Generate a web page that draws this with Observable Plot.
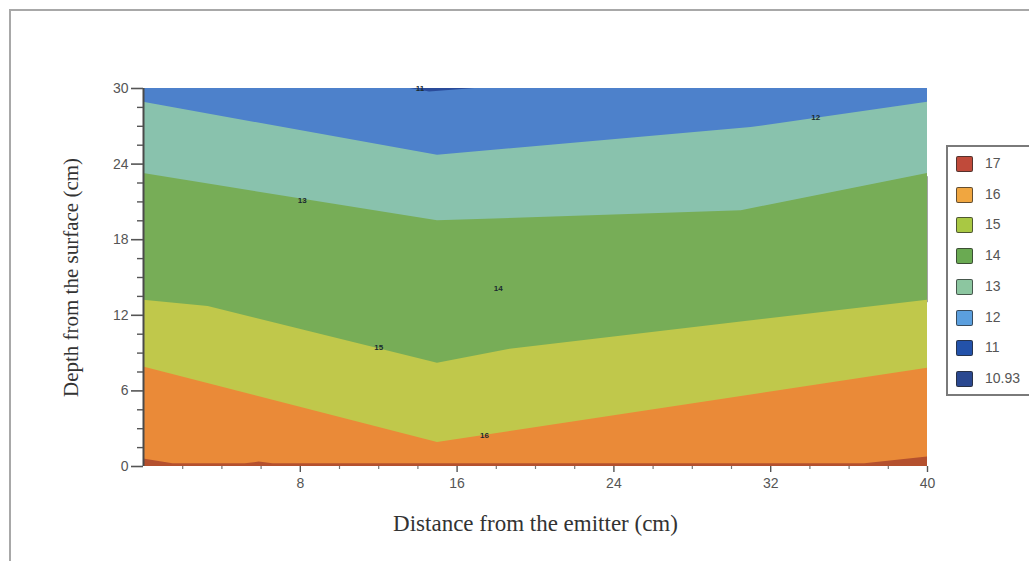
<!DOCTYPE html>
<html>
<head>
<meta charset="utf-8">
<script src="https://cdn.jsdelivr.net/npm/d3@7"></script>
<script src="https://cdn.jsdelivr.net/npm/@observablehq/plot@0.6"></script>
<style>
  html, body { margin: 0; padding: 0; background: #fff; overflow: hidden; width: 1029px; height: 561px; }
  #wrap { position: relative; width: 1029px; height: 561px; }
  #frame { position: absolute; left: 9px; top: 9px; width: 1100px; height: 600px;
           border-top: 2px solid #a8a8a8; border-left: 2px solid #a8a8a8; pointer-events: none; }
  #legend { position: absolute; left: 946px; top: 145px; width: 110px; height: 251px;
            border: 2px solid #7a7a7a; background: #fff; box-sizing: border-box; }
  .row { position: absolute; left: 8px; height: 18px; }
  .sw { position: absolute; left: 0; top: 0; width: 17px; height: 16px; box-sizing: border-box;
        border: 1.5px solid rgba(40,40,40,0.7); border-radius: 2px; }
  .lab { position: absolute; left: 29px; top: -1px; font: 14px "Liberation Sans", Arial, sans-serif; color: #555; }
</style>
</head>
<body>
<div id="wrap"></div>
<script>
// ---- data ----
// band boundaries (depth, cm) as functions of distance (cm); each band is painted from its lower boundary up to the top
const base17X = [0, 40];
const base17Y = [0, 0];
const b17X = [0, 1.5, 5.2, 5.9, 6.6, 36.8, 40];      // red(17) -> orange(16)
const b17Y = [0.6, 0.22, 0.22, 0.35, 0.22, 0.22, 0.75];
const b16X = [0, 15, 40];                          // orange(16) -> yellow(15)
const b16Y = [7.9, 1.9, 7.8];
const b15X = [0, 3.3, 15, 18.7, 40];               // yellow(15) -> green(14)
const b15Y = [13.2, 12.7, 8.2, 9.3, 13.2];
const b14X = [0, 15, 30.5, 40];                    // green(14) -> teal(13)
const b14Y = [23.25, 19.5, 20.3, 23.25];
const b13X = [0, 15, 31, 40];                      // teal(13) -> blue(12)
const b13Y = [28.9, 24.7, 26.9, 28.9];
const b12X = [13.6, 14.6, 16.9];                   // blue(12) -> dark blue(11)
const b12Y = [30, 29.72, 30];

const bandNames  = ["17", "16", "15", "14", "13", "12", "11"];
const bandColors = ["#b4502e", "#ea8a38", "#c0c84b", "#77ad57", "#89c2ad", "#4d81cb", "#2a4b9a"];

const labelText = ["11", "12", "13", "14", "15", "16"];
const labelX    = [14.1, 34.3, 8.1, 18.1, 12.0, 17.4];
const labelY    = [30.0, 27.7, 21.1, 14.1, 9.45, 2.5];

const legendLabels = ["17", "16", "15", "14", "13", "12", "11", "10.93"];
const legendColors = ["#c04a3a", "#f0a640", "#a9c843", "#6aaa52", "#8cc6a0", "#5b9fde", "#2352aa", "#2a4890"];

const xTicks = [8, 16, 24, 32, 40];
const yTicks = [0, 6, 12, 18, 24, 30];
const xMinor = d3.range(0, 40.01, 2).filter(v => v % 8 !== 0);
const yMinor = d3.range(0, 30.01, 1.5).filter(v => v % 6 !== 0);

// ---- build ----
const boundaries = [
  [base17X, base17Y], [b17X, b17Y], [b16X, b16Y], [b15X, b15Y], [b14X, b14Y], [b13X, b13Y], [b12X, b12Y]
];
const bandMarks = boundaries.map(([X, Y], i) =>
  Plot.areaY(X.map((x, j) => ({x, y: Y[j]})), {x: "x", y1: "y", y2: 30, fill: bandColors[i], curve: "linear"})
);
const labels = labelText.map((t, i) => ({t, x: labelX[i], y: labelY[i]}));
const serif = "'Liberation Serif', 'Times New Roman', serif";

const chart = Plot.plot({
  width: 1029, height: 561,
  marginLeft: 143, marginRight: 102, marginTop: 88, marginBottom: 95,
  style: {background: "transparent", color: "#555", fontFamily: "'Liberation Sans', Arial, sans-serif"},
  x: {domain: [0, 40]},
  y: {domain: [0, 30]},
  marks: [
    ...bandMarks,
    Plot.text(labels, {x: "x", y: "y", text: "t", fontSize: 8, fontWeight: "bold", fill: "#1a2a30"}),
    Plot.ruleX([0], {stroke: "#4a4a4a", strokeWidth: 2}),
    Plot.ruleX([40], {y1: 13, y2: 23, stroke: "#666", strokeWidth: 1, strokeOpacity: 0.6}),
    Plot.axisY({ticks: yTicks, tickSize: 12, tickPadding: 3, fontSize: 14, stroke: "#555", strokeWidth: 1.6, label: null, fill: "#555"}),
    Plot.axisY({ticks: yMinor, tickSize: 6, text: null, stroke: "#555", strokeWidth: 1.4, label: null}),
    Plot.axisX({ticks: xTicks, tickSize: 6, tickPadding: 6, fontSize: 14, stroke: "#555", strokeWidth: 1.4, label: null, fill: "#555"}),
    Plot.axisX({ticks: xMinor, tickSize: 3, text: null, stroke: "#777", strokeWidth: 1.2, label: null}),
    Plot.text(["Distance from the emitter (cm)"], {frameAnchor: "bottom", dy: 57, lineAnchor: "middle", textAnchor: "middle", fontSize: 23, fontFamily: serif, fill: "#333"}),
    Plot.text(["Depth from the surface (cm)"], {frameAnchor: "left", dx: -72, rotate: -90, lineAnchor: "middle", textAnchor: "middle", fontSize: 21, fontFamily: serif, fill: "#333"})
  ]
});

const wrap = document.getElementById("wrap");
wrap.appendChild(chart);

const legend = document.createElement("div");
legend.id = "legend";
legendLabels.forEach((l, i) => {
  const row = document.createElement("div");
  row.className = "row";
  row.style.top = (9 + i * 30.7) + "px";
  const sw = document.createElement("div");
  sw.className = "sw";
  sw.style.background = legendColors[i];
  const lab = document.createElement("div");
  lab.className = "lab";
  lab.textContent = l;
  row.appendChild(sw);
  row.appendChild(lab);
  legend.appendChild(row);
});
wrap.appendChild(legend);

const frame = document.createElement("div");
frame.id = "frame";
wrap.appendChild(frame);
</script>
</body>
</html>
